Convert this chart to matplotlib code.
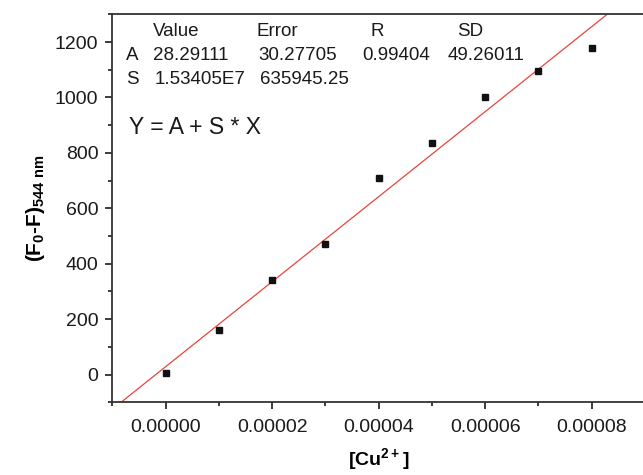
import numpy as np
import matplotlib
matplotlib.use("Agg")
import matplotlib.pyplot as plt
from matplotlib.ticker import MultipleLocator, FormatStrFormatter

plt.rcParams["font.family"] = ["Liberation Sans", "DejaVu Sans"]
plt.rcParams["mathtext.default"] = "regular"

# data
cu_conc = [0.0, 1e-5, 2e-5, 3e-5, 4e-5, 5e-5, 6e-5, 7e-5, 8e-5]
delta_f = [4, 160, 342, 472, 711, 836, 1003, 1097, 1177]

# fit parameters shown in the table
fit_a = 28.29111
fit_s = 1.53405e7
table_head = ["Value", "Error", "R", "SD"]
row_a = ["A", "28.29111", "30.27705", "0.99404", "49.26011"]
row_s = ["S", "1.53405E7", "635945.25"]

W, H = 643, 475
fig = plt.figure(figsize=(W / 100, H / 100), dpi=100)
ax = fig.add_axes([112.3 / W, 1 - 402.3 / H, (645 - 112.3) / W, (402.3 - 14.3) / H])

ax.set_xlim(-1e-5, 9e-5)
ax.set_ylim(-100, 1300)

xs = np.array(ax.get_xlim())
ax.plot(xs, fit_a + fit_s * xs, color="#e8453c", lw=0.9, zorder=2)
ax.plot(cu_conc, delta_f, "s", color="#111111", ms=4.6, zorder=3)

ax.xaxis.set_major_locator(MultipleLocator(2e-5))
ax.xaxis.set_minor_locator(MultipleLocator(1e-5))
ax.xaxis.set_major_formatter(FormatStrFormatter("%.5f"))
ax.yaxis.set_major_locator(MultipleLocator(200))
ax.yaxis.set_minor_locator(MultipleLocator(100))

ax.tick_params(which="both", direction="out", width=1.2, labelsize=14, colors="#1a1a1a")
ax.tick_params(which="major", length=5)
ax.tick_params(which="minor", length=3)
ax.tick_params(axis="y", pad=5)
ax.tick_params(axis="x", pad=7)
for sp in ax.spines.values():
    sp.set_linewidth(1.3)
    sp.set_color("#333333")

ax.set_xlabel("[Cu$^{2+}$]", fontsize=14, fontweight="bold", labelpad=7)
ax.set_ylabel("(F$_0$-F)$_{544\\ nm}$", fontsize=15, fontweight="bold", labelpad=6)

# fit table
fs = 13.5
cols = [153, 258, 362, 448]
head_x = [153, 257, 371, 457]
for x, t in zip(head_x, table_head):
    fig.text(x / W, 1 - 31.5 / H, t, fontsize=fs, va="center", color="#1a1a1a")
fig.text(126 / W, 1 - 55 / H, row_a[0], fontsize=fs, va="center", color="#1a1a1a")
for x, t in zip(cols, row_a[1:]):
    fig.text(x / W, 1 - 55 / H, t, fontsize=fs, va="center", color="#1a1a1a")
fig.text(126 / W, 1 - 80 / H, row_s[0], fontsize=fs, va="center", color="#1a1a1a")
for x, t in zip([155, 260], row_s[1:]):
    fig.text(x / W, 1 - 80 / H, t, fontsize=fs, va="center", color="#1a1a1a")
fig.text(129 / W, 1 - 128 / H, "Y = A + S * X", fontsize=16.5, va="center", color="#1a1a1a")

fig.savefig("out.png", dpi=100)
